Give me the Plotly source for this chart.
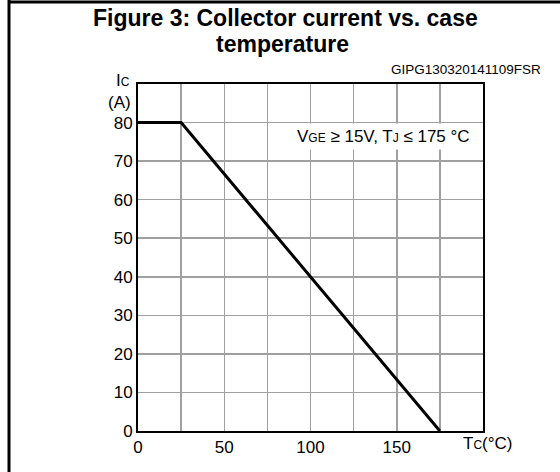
import plotly.graph_objects as go

# Data
tc_values = [0, 25, 175]
ic_values = [80, 80, 0]

x_tick_vals = [0, 25, 50, 75, 100, 125, 150, 175, 200]
x_tick_text = ["0", "", "50", "", "100", "", "150", "", ""]
y_tick_vals = [0, 10, 20, 30, 40, 50, 60, 70, 80]
y_tick_text = ["0", "10", "20", "30", "40", "50", "60", "70", "80"]

FONT = "Liberation Sans, Arial, sans-serif"
W, H = 560, 472
L, R, T, B = 138, 77, 84, 41
pw, ph = W - L - R, H - T - B

def px(x):
    return (x - L) / pw

def py(y):
    return (H - B - y) / ph

fig = go.Figure()
fig.add_trace(go.Scatter(x=tc_values, y=ic_values, mode="lines",
                         line=dict(color="black", width=3), hoverinfo="skip"))

fig.update_layout(
    width=W, height=H,
    margin=dict(l=L, r=R, t=T, b=B),
    paper_bgcolor="white", plot_bgcolor="white",
    showlegend=False,
    font=dict(family=FONT, color="black", size=17),
    xaxis=dict(range=[0, 200], tickvals=x_tick_vals, ticktext=x_tick_text,
               showgrid=True, gridcolor="#a0a0a0", gridwidth=1.5,
               showline=True, mirror=True, linecolor="black", linewidth=2,
               zeroline=False, ticks="", tickfont=dict(size=17)),
    yaxis=dict(range=[0, 90], tickvals=y_tick_vals, ticktext=y_tick_text,
               showgrid=True, gridcolor="#a0a0a0", gridwidth=1.5,
               showline=True, mirror=True, linecolor="black", linewidth=2,
               zeroline=False, ticks="", tickfont=dict(size=17)),
)

# Outer frame (left and top lines)
fig.add_shape(type="line", xref="paper", yref="paper",
              x0=px(9), x1=px(9), y0=py(0), y1=py(H), line=dict(color="black", width=3))
fig.add_shape(type="line", xref="paper", yref="paper",
              x0=px(9), x1=px(W), y0=py(2), y1=py(2), line=dict(color="black", width=3))
# blank strip at the far right (the reference shows nothing there)
fig.add_shape(type="rect", xref="paper", yref="paper", layer="above",
              x0=px(540), x1=px(W + 5), y0=py(4), y1=py(H + 5),
              fillcolor="white", line=dict(width=0))

SUB = "<span style='font-size:12px'>{}</span>"
annos = [
    dict(text="<b>Figure 3: Collector current vs. case</b>",
         x=px(285), y=py(18), xanchor="center", yanchor="middle", font=dict(size=23)),
    dict(text="<b>temperature</b>",
         x=px(282), y=py(44), xanchor="center", yanchor="middle", font=dict(size=23)),
    dict(text="GIPG130320141109FSR", x=px(543), y=py(70), xanchor="right",
         yanchor="middle", font=dict(size=13.5)),
    dict(text="I" + SUB.format("C"), x=px(132), y=py(80),
         xanchor="right", yanchor="middle", font=dict(size=17)),
    dict(text="(A)", x=px(133), y=py(102), xanchor="right", yanchor="middle",
         font=dict(size=17)),
    dict(text="T" + SUB.format("C") + "(°C)", x=px(461), y=py(443),
         xanchor="left", yanchor="middle", font=dict(size=17)),
    dict(text="V" + SUB.format("GE") + " ≥ 15V, T" + SUB.format("J") + " ≤ 175 °C",
         x=px(474), y=py(136), xanchor="right", yanchor="middle",
         font=dict(size=17), bgcolor="white", borderpad=3),
]
for a in annos:
    fig.add_annotation(xref="paper", yref="paper", showarrow=False, **a)

fig.write_html(
    "out.html",
    config={"displayModeBar": False, "staticPlot": True},
    post_script=("document.body.style.margin='0';"
                 "document.body.style.overflow='hidden';"
                 "document.documentElement.style.overflow='hidden';"),
)
